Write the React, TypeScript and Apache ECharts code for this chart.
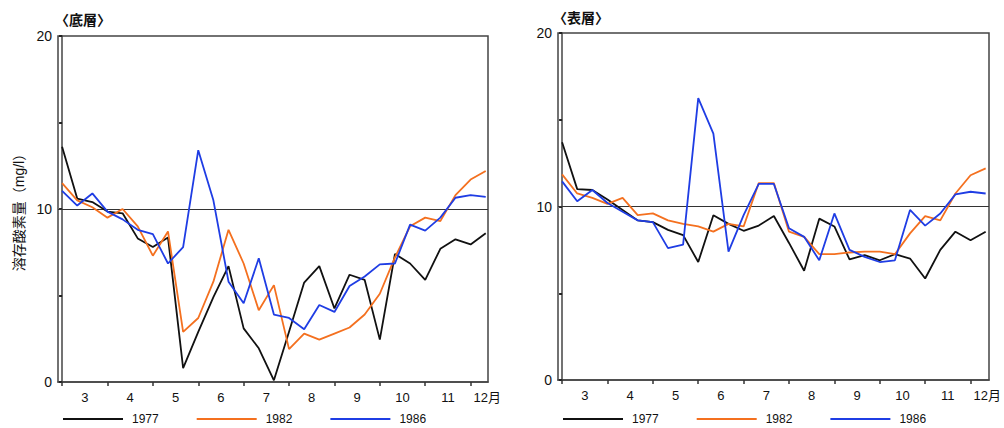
import React, { useEffect, useRef } from "react";
import * as echarts from "echarts";

// Dissolved oxygen (mg/l), sampled three times a month (上・中・下旬) from March to early December
const years = ["1977", "1982", "1986"];
const monthLabels = ["3", "4", "5", "6", "7", "8", "9", "10", "11", "12月"];
const yTickLabels = [0, 10, 20];
const referenceLevel = 10;

// 底層 (bottom layer)
const bottom1977 = [13.6, 10.6, 10.4, 9.85, 9.75, 8.3, 7.8, 8.35, 0.8, 2.9, 4.9, 6.7, 3.1, 1.95, 0.1, 2.9, 5.75, 6.7, 4.25, 6.2, 5.9, 2.45, 7.4, 6.85, 5.9, 7.7, 8.25, 7.95, 8.6];
const bottom1982 = [11.5, 10.5, 10.1, 9.5, 10.0, 9.0, 7.3, 8.7, 2.9, 3.7, 5.8, 8.8, 6.85, 4.15, 5.6, 1.9, 2.8, 2.45, 2.8, 3.15, 3.9, 5.1, 7.2, 9.0, 9.5, 9.3, 10.8, 11.7, 12.2];
const bottom1986 = [11.05, 10.2, 10.9, 9.85, 9.4, 8.8, 8.55, 6.85, 7.8, 13.4, 10.5, 5.8, 4.55, 7.15, 3.9, 3.7, 3.05, 4.45, 4.05, 5.55, 6.1, 6.8, 6.85, 9.1, 8.75, 9.5, 10.65, 10.8, 10.7];

// 表層 (surface layer)
const surface1977 = [13.7, 11.0, 10.95, 10.4, 9.8, 9.2, 9.1, 8.65, 8.35, 6.8, 9.5, 9.0, 8.6, 8.9, 9.45, 7.9, 6.3, 9.3, 8.85, 6.95, 7.2, 6.9, 7.25, 7.0, 5.85, 7.5, 8.55, 8.05, 8.55];
const surface1982 = [11.85, 10.75, 10.5, 10.15, 10.5, 9.5, 9.6, 9.2, 9.0, 8.85, 8.55, 9.0, 8.85, 11.35, 11.35, 8.55, 8.25, 7.25, 7.25, 7.35, 7.4, 7.4, 7.25, 8.45, 9.45, 9.2, 10.75, 11.8, 12.2];
const surface1986 = [11.45, 10.3, 10.95, 10.2, 9.7, 9.2, 9.1, 7.6, 7.8, 16.25, 14.2, 7.4, 9.5, 11.3, 11.3, 8.75, 8.25, 6.9, 9.6, 7.5, 7.1, 6.8, 6.9, 9.8, 8.9, 9.6, 10.7, 10.85, 10.75];

const colors = ["#111111", "#f4701f", "#1f3de4"];
const FONT = "'Liberation Sans', Arial, 'Noto Sans CJK JP', sans-serif";
const SAMPLES_PER_MONTH = 3;

// x positions: sample index; months start every 3 samples
const monthStarts = monthLabels.map((_, i) => i * SAMPLES_PER_MONTH);
const monthCentres = monthLabels.map((_, i) =>
  i < monthLabels.length - 1 ? i * SAMPLES_PER_MONTH + 1.5 : 28.1
);

const toPoints = (vals: number[]) => vals.map((v, i) => [i, v]);

function xAxisFor(gridIndex: number, max: number) {
  return {
    type: "value",
    gridIndex,
    min: -0.27,
    max,
    axisLine: { show: true, lineStyle: { color: "#444", width: 1.5 } },
    axisTick: {
      show: true,
      customValues: monthStarts,
      length: 4,
      lineStyle: { color: "#333", width: 1.5 },
    },
    axisLabel: {
      customValues: monthCentres,
      margin: 9,
      fontSize: 13,
      color: "#111",
      fontFamily: FONT,
      formatter: (v: number) => monthLabels[Math.floor(v / SAMPLES_PER_MONTH)] ?? "",
    },
    splitLine: { show: false },
  };
}

function yAxisFor(gridIndex: number, withName: boolean) {
  return {
    type: "value",
    gridIndex,
    min: 0,
    max: 20,
    interval: 5,
    name: withName ? "溶存酸素量（mg/l）" : "",
    nameLocation: "middle",
    nameGap: 32,
    nameTextStyle: { fontSize: 14, color: "#111", fontFamily: FONT },
    axisLine: { show: true, lineStyle: { color: "#444", width: 1.5 } },
    axisTick: { show: true, length: 3, lineStyle: { color: "#222", width: 2 } },
    axisLabel: {
      fontSize: 14,
      color: "#111",
      margin: 6,
      fontFamily: FONT,
      formatter: (v: number) => (yTickLabels.includes(v) ? String(v) : ""),
    },
    splitLine: { show: false },
  };
}

function lineSeries(name: string, vals: number[], color: string, gridIndex: number, withRef: boolean) {
  const s: any = {
    type: "line",
    name,
    xAxisIndex: gridIndex,
    yAxisIndex: gridIndex,
    data: toPoints(vals),
    symbol: "none",
    lineStyle: { color, width: 1.8 },
    itemStyle: { color },
    z: 3,
  };
  if (withRef) {
    s.markLine = {
      silent: true,
      symbol: "none",
      label: { show: false },
      lineStyle: { color: "#333", width: 1.2, type: "solid" },
      data: [{ yAxis: referenceLevel }],
      z: 1,
    };
  }
  return s;
}

function legendFor(left: number) {
  return {
    left,
    top: 408,
    data: years,
    itemWidth: 60,
    itemHeight: 12,
    itemGap: 38,
    icon: "path://M0,5 L60,5 L60,7 L0,7 Z",
    textStyle: {
      fontSize: 12,
      lineHeight: 12,
      color: "#111",
      fontFamily: FONT,
      padding: [0, 0, 0, 4],
    },
  };
}

export default function App() {
  const ref = useRef<HTMLDivElement>(null);

  useEffect(() => {
    if (!ref.current) return;
    const chart = echarts.init(ref.current, undefined, { renderer: "svg" });
    const bottomSets = [bottom1977, bottom1982, bottom1986];
    const surfaceSets = [surface1977, surface1982, surface1986];

    const titleStyle = { fontSize: 14, fontWeight: "bold", color: "#111", fontFamily: FONT };

    chart.setOption({
      animation: false,
      backgroundColor: "#ffffff",
      textStyle: { fontFamily: FONT },
      title: [
        { text: "〈底層〉", left: 50, top: 8, textStyle: titleStyle },
        { text: "〈表層〉", left: 548, top: 6, textStyle: titleStyle },
      ],
      legend: [legendFor(58), legendFor(558)],
      grid: [
        { left: 58, top: 36, width: 430, height: 346, show: true, borderColor: "#444", borderWidth: 1.5 },
        { left: 558, top: 33, width: 431, height: 347, show: true, borderColor: "#444", borderWidth: 1.5 },
      ],
      xAxis: [xAxisFor(0, 28.15), xAxisFor(1, 28.22)],
      yAxis: [yAxisFor(0, true), yAxisFor(1, false)],
      series: [
        ...years.map((y, i) => lineSeries(y, bottomSets[i], colors[i], 0, i === 0)),
        ...years.map((y, i) => lineSeries(y, surfaceSets[i], colors[i], 1, i === 0)),
      ],
    });

    return () => chart.dispose();
  }, []);

  return (
    <div
      ref={ref}
      style={{ position: "fixed", left: 0, top: 0, width: 1004, height: 428 }}
    />
  );
}
